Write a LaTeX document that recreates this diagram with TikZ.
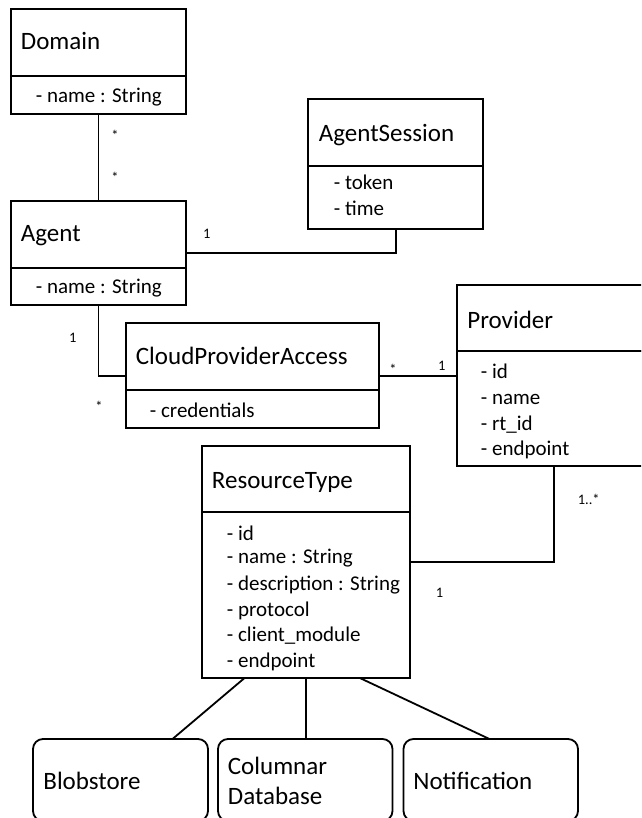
\documentclass[tikz,border=0pt]{standalone}
\usepackage{fontspec}
\setmainfont{Carlito}
\begin{document}
\begin{tikzpicture}[x=1pt,y=-1pt,line width=1.8pt,
  box/.style={draw,rectangle,inner sep=0pt,outer sep=0pt,anchor=north west},
  subbox/.style={box,rounded corners=10pt},
  ttl/.style={anchor=base west,inner sep=0pt,font=\fontsize{25}{30}\selectfont},
  att/.style={anchor=base west,inner sep=0pt,font=\fontsize{21}{25}\selectfont},
  mult/.style={anchor=base,inner sep=0pt,font=\fontsize{14.5}{17}\selectfont}]
\useasboundingbox (0,0) rectangle (641,818);
\clip (0,0) rectangle (641,818);

% class boxes: title compartment and attribute compartment
\node[box,minimum width=175pt,minimum height=67pt] (domT) at (11,9) {};
\node[box,minimum width=175pt,minimum height=38pt] (domA) at (11,76) {};
\node[box,minimum width=175pt,minimum height=67pt] (agT) at (11,201) {};
\node[box,minimum width=175pt,minimum height=37pt] (agA) at (11,268) {};
\node[box,minimum width=175pt,minimum height=67pt] (asT) at (308.3,99) {};
\node[box,minimum width=175pt,minimum height=63pt] (asA) at (308.3,166) {};
\node[box,minimum width=253.6pt,minimum height=67pt] (cpaT) at (125.7,323.3) {};
\node[box,minimum width=253.6pt,minimum height=37.4pt] (cpaA) at (125.7,390.3) {};
\node[box,minimum width=194.6pt,minimum height=66pt] (provT) at (456.7,285) {};
\node[box,minimum width=194.6pt,minimum height=115pt] (provA) at (456.7,351) {};
\node[box,minimum width=208.3pt,minimum height=66.3pt] (rtT) at (201.7,446) {};
\node[box,minimum width=208.3pt,minimum height=165.7pt] (rtA) at (201.7,512.3) {};

% subtypes
\node[subbox,minimum width=175pt,minimum height=82pt] (blob) at (33,739) {};
\node[subbox,minimum width=174.5pt,minimum height=82pt] (col) at (218,739) {};
\node[subbox,minimum width=174.5pt,minimum height=82pt] (note) at (403.5,739) {};

% titles
\node[ttl] (domN) at (20,50) {Domain};
\node[ttl] (agN) at (20,241.3) {Agent};
\node[ttl] (asN) at (318,141.3) {AgentSession};
\node[ttl] (cpaN) at (135,364.7) {CloudProviderAccess};
\node[ttl] (provN) at (466.5,328) {Provider};
\node[ttl] (rtN) at (211,488.7) {ResourceType};
\node[ttl] (blobN) at (42.5,789.7) {Blobstore};
\node[ttl] (colN1) at (227,774.7) {Columnar};
\node[ttl] (colN2) at (227,804.7) {Database};
\node[ttl] (noteN) at (412.5,789) {Notification};

% attributes
\node[att] (domA1) at (35,102.7) {- name : String};
\node[att] (agA1) at (35,293) {- name : String};
\node[att] (asA1) at (333,189.7) {- token};
\node[att] (asA2) at (333,215.3) {- time};
\node[att] (cpaA1) at (149,417.7) {- credentials};
\node[att] (provA1) at (480,378.7) {- id};
\node[att] (provA2) at (480,404.7) {- name};
\node[att] (provA3) at (480,430.3) {- rt\_id};
\node[att] (provA4) at (480,455.3) {- endpoint};
\node[att] (rtA1) at (226,540.3) {- id};
\node[att] (rtA2) at (226,563.7) {- name : String};
\node[att] (rtA3) at (226,590.3) {- description : String};
\node[att] (rtA4) at (226,616.3) {- protocol};
\node[att] (rtA5) at (226,641.3) {- client\_module};
\node[att] (rtA6) at (226,667) {- endpoint};

% associations
\draw (domA.south) -- (agT.north);
\draw (agT.east |- 0,252.7) -| (asA.south);
\draw (agA.south) |- (cpaT.west |- 0,376);
\draw (cpaT.east |- 0,376) -- (provA.west |- 0,376);
\draw (provA.south) |- (rtA.east |- 0,561.7);
\draw ([xshift=-61.3pt]rtA.south) -- ([xshift=52pt]blob.north);
\draw (rtA.south) -- (rtA.south |- col.north);
\draw ([xshift=54pt]rtA.south) -- ([xshift=-1.3pt]note.north);

% multiplicities
\node[mult] (m1) at (115,140.3) {*};
\node[mult] (m2) at (115,182.7) {*};
\node[mult] (m3) at (206.7,238) {1};
\node[mult] (m4) at (72.7,342.3) {1};
\node[mult] (m5) at (99,411) {*};
\node[mult] (m6) at (393,374) {*};
\node[mult] (m7) at (441.7,370.3) {1};
\node[mult] (m8) at (588.7,504.6) {1..*};
\node[mult] (m9) at (439.5,597.3) {1};
\end{tikzpicture}
\end{document}
